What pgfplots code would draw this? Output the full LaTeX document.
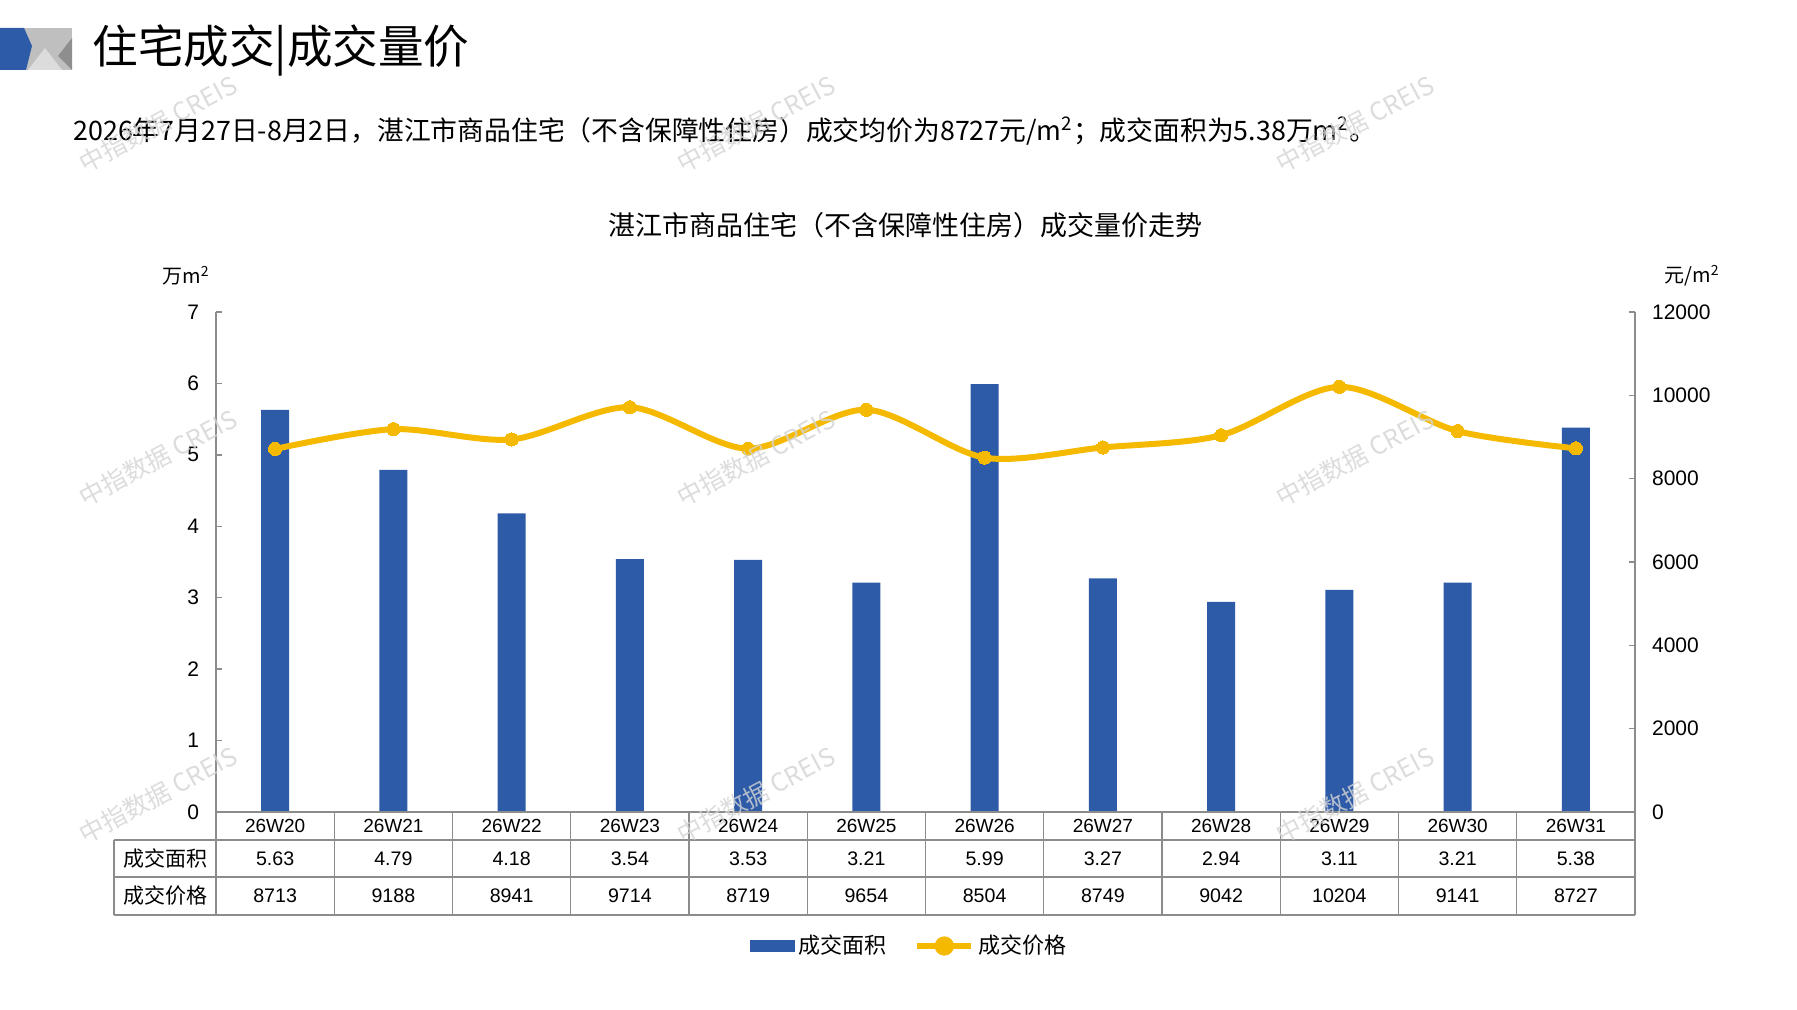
\documentclass[border=0pt]{standalone}
\usepackage{fontspec}
\setmainfont{Liberation Sans}
\newfontfamily\cjk{Noto Sans CJK SC}
\usepackage{pgfplots}
\usepackage{pgfplotstable}
\pgfplotsset{compat=1.18}
\definecolor{barblue}{HTML}{2E5BA8}
\definecolor{gold}{HTML}{F5B900}
\definecolor{axgray}{HTML}{8C8C8C}
\definecolor{wm}{HTML}{D4D4D4}
\definecolor{logoA}{HTML}{BFBFBF}
\definecolor{logoB}{HTML}{DCDCDC}
\definecolor{logoC}{HTML}{8E8E8E}

\pgfplotstableread{
x area price
0 5.63 8713
1 4.79 9188
2 4.18 8941
3 3.54 9714
4 3.53 8719
5 3.21 9654
6 5.99 8504
7 3.27 8749
8 2.94 9042
9 3.11 10204
10 3.21 9141
11 5.38 8727
}\data

\begin{document}
\begin{tikzpicture}
\path[use as bounding box] (0,0) rectangle (898.5pt,505pt);
\fill[white] (0,0) rectangle (898.5pt,505pt);

% header
\begin{scope}[x=0.5pt,y=-0.5pt,shift={(0pt,505pt)}]
  \fill[logoA] (20,28) rectangle (72,70);
  \fill[logoB] (28,70) -- (45,48) -- (62,70) -- cycle;
  \fill[logoC] (72,38) -- (72,70) -- (58,56) -- cycle;
  \fill[barblue] (0,28) -- (24,28) -- (32,46) -- (26,70) -- (0,70) -- cycle;
  \node[anchor=west, inner sep=0pt, font=\cjk\fontsize{22.8}{26}\selectfont] at (92,51) {住宅成交|成交量价};
  \node[anchor=west, inner sep=0pt, font=\cjk\fontsize{13.4}{16}\selectfont] at (73,131)
    {2026年7月27日-8月2日，湛江市商品住宅（不含保障性住房）成交均价为8727元/m\textsuperscript{2}；成交面积为5.38万m\textsuperscript{2}。};
  \node[inner sep=0pt, font=\cjk\fontsize{13.5}{16}\selectfont] at (905,225)
    {湛江市商品住宅（不含保障性住房）成交量价走势};
  \node[inner sep=0pt, font=\cjk\fontsize{10}{12}\selectfont] at (186,276) {万m\textsuperscript{2}};
  \node[inner sep=0pt, font=\cjk\fontsize{10}{12}\selectfont] at (1692,276) {元/m\textsuperscript{2}};
\end{scope}

\begin{axis}[
  at={(108pt,99pt)}, anchor=south west, scale only axis,
  width=709.5pt, height=250pt,
  xmin=-0.5, xmax=11.5, ymin=0, ymax=7, enlargelimits=false,
  axis y line*=left, axis x line*=bottom,
  axis line style={axgray, line width=0.7pt},
  xtick={0,...,11},
  xticklabels={26W20,26W21,26W22,26W23,26W24,26W25,26W26,26W27,26W28,26W29,26W30,26W31},
  x tick style={draw=none},
  xticklabel style={anchor=center, yshift=-7pt, font=\fontsize{9.5}{11}\selectfont},
  ytick={0,...,7},
  y tick style={axgray, line width=0.7pt},
  tick align=inside, major tick length=2.8pt,
  yticklabel style={xshift=-5pt, font=\fontsize{10.5}{12}\selectfont},
  /pgf/number format/assume math mode=true,
]
\addplot[ybar, bar width=14pt, fill=barblue, draw=none] table[x=x, y=area] {\data};
\end{axis}

\begin{axis}[
  at={(108pt,99pt)}, anchor=south west, scale only axis,
  width=709.5pt, height=250pt,
  xmin=-0.5, xmax=11.5, ymin=0, ymax=12000, enlargelimits=false,
  axis y line*=right, axis x line=none,
  axis line style={axgray, line width=0.7pt},
  ytick={0,2000,...,12000},
  scaled y ticks=false,
  y tick style={axgray, line width=0.7pt},
  tick align=inside, major tick length=2.8pt,
  yticklabel style={xshift=5pt, font=\fontsize{10.5}{12}\selectfont, /pgf/number format/1000 sep={}},
  /pgf/number format/assume math mode=true,
  legend style={at={(0.489,-0.268)}, anchor=center, draw=none, fill=none,
    legend columns=2, font=\cjk\fontsize{11}{13}\selectfont,
    /tikz/every even column/.append style={column sep=12pt}},
]
\addlegendimage{legend image code/.code={\fill[barblue] (0pt,-2.8pt) rectangle (22pt,2.8pt);}}
\addlegendentry{成交面积}
\addplot[gold, line width=3pt, smooth, mark=*, mark size=3.3pt,
  mark options={fill=gold, draw=gold, line width=0pt},
  legend image code/.code={\draw[gold, line width=3pt] (0pt,0pt) -- (27pt,0pt); \fill[gold] (13.5pt,0pt) circle (3.3pt);}]
  table[x=x, y=price] {\data};
\addlegendentry{成交价格}
\end{axis}

% data table
\begin{scope}[x=0.5pt,y=-0.5pt,shift={(0pt,505pt)}]
  \draw[axgray, line width=0.7pt] (216,812) -- (1635,812);
  \draw[axgray, line width=0.7pt] (114,840) -- (1635,840);
  \draw[axgray, line width=0.7pt] (114,877) -- (1635,877);
  \draw[axgray, line width=0.7pt] (114,915) -- (1635,915);
  \draw[axgray, line width=0.7pt] (114,840) -- (114,915);
  \foreach \i in {0,...,12} {
    \draw[axgray, line width=0.7pt] ({216+\i*118.25},812) -- ({216+\i*118.25},915);
  }
  \node[inner sep=0pt, font=\cjk\fontsize{10.5}{12}\selectfont] at (165,858.5) {成交面积};
  \node[inner sep=0pt, font=\cjk\fontsize{10.5}{12}\selectfont] at (165,896) {成交价格};
  \foreach \i/\a/\p in {0/5.63/8713,1/4.79/9188,2/4.18/8941,3/3.54/9714,4/3.53/8719,5/3.21/9654,6/5.99/8504,7/3.27/8749,8/2.94/9042,9/3.11/10204,10/3.21/9141,11/5.38/8727} {
    \node[inner sep=0pt, font=\fontsize{9.8}{12}\selectfont] at ({216+(\i+0.5)*118.25},858.5) {\a};
    \node[inner sep=0pt, font=\fontsize{9.8}{12}\selectfont] at ({216+(\i+0.5)*118.25},896) {\p};
  }
\end{scope}

% watermarks
\begin{scope}[x=0.5pt,y=-0.5pt,shift={(0pt,505pt)}]
  \foreach \wx in {158,756,1355} {
    \foreach \wy in {124,458,795} {
      \node[rotate=28, inner sep=0pt, text=wm, opacity=0.8, font=\cjk\fontsize{12.5}{14}\selectfont] at (\wx,\wy) {中指数据 CREIS};
    }
  }
\end{scope}
\end{tikzpicture}
\end{document}
